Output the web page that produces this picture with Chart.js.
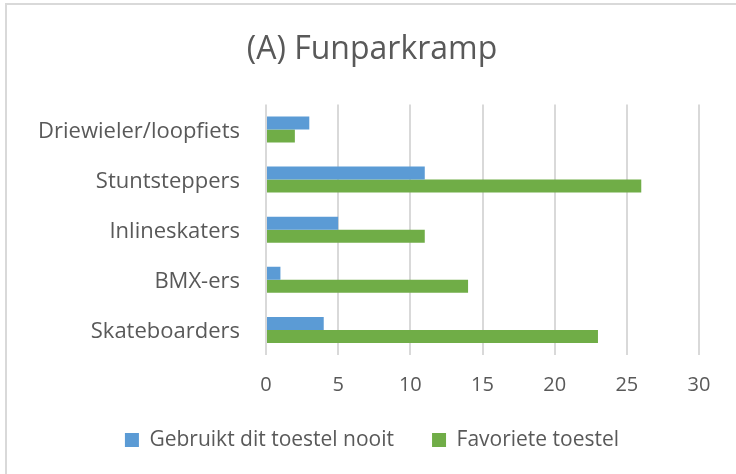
<!DOCTYPE html>
<html>
<head>
<meta charset="utf-8">
<script src="https://cdn.jsdelivr.net/npm/chart.js@4"></script>
<style>
  html, body { margin: 0; padding: 0; background: #fff; }
  #wrap { position: relative; width: 736px; height: 474px; }
  #frame {
    position: absolute; left: 5px; top: 3px; width: 740px; height: 480px;
    border: 2px solid #d9d9d9; box-sizing: border-box; pointer-events: none;
  }
  canvas { position: absolute; left: 0; top: 0; }
</style>
</head>
<body>
<div id="wrap">
  <canvas id="chart" width="736" height="474"></canvas>
  <div id="frame"></div>
</div>
<script>
// chart data
const categories = ["Driewieler/loopfiets", "Stuntsteppers", "Inlineskaters", "BMX-ers", "Skateboarders"];
const nooitValues = [3, 11, 5, 1, 4];
const favorietValues = [2, 26, 11, 14, 23];
const xTicks = [0, 5, 10, 15, 20, 25, 30];

const textColor = "#595959";
const fontFamily = "'Open Sans', Lato, sans-serif";

new Chart(document.getElementById("chart"), {
  type: "bar",
  data: {
    labels: categories,
    datasets: [
      {
        label: "Gebruikt dit toestel nooit",
        data: nooitValues,
        backgroundColor: "#5B9BD5",
        categoryPercentage: 0.52,
        barPercentage: 1.0,
      },
      {
        label: "Favoriete toestel",
        data: favorietValues,
        backgroundColor: "#70AD47",
        categoryPercentage: 0.52,
        barPercentage: 1.0,
      },
    ],
  },
  options: {
    indexAxis: "y",
    responsive: false,
    animation: false,
    // left/right padding keeps the title centred like the original
    layout: { padding: { left: 8, right: 0, top: 0, bottom: 13.5 } },
    scales: {
      x: {
        min: xTicks[0],
        max: xTicks[xTicks.length - 1],
        afterBuildTicks: (scale) => {
          scale.ticks = xTicks.map((v) => ({ value: v }));
        },
        afterFit: (scale) => {
          scale.height = 36.5;
        },
        grid: { color: "#d9d9d9", lineWidth: 2, drawTicks: false },
        border: { display: false },
        ticks: { color: textColor, font: { family: fontFamily, size: 20 }, padding: 18 },
      },
      y: {
        afterFit: (scale) => {
          scale.width = 258;
        },
        grid: { display: false, drawTicks: false },
        border: { display: false },
        ticks: { color: textColor, font: { family: fontFamily, size: 22 }, padding: 26, labelOffset: 2 },
      },
      // empty right axis, only to reserve the space right of the plot
      yRight: {
        position: "right",
        afterFit: (scale) => {
          scale.width = 37;
        },
        grid: { display: false, drawTicks: false },
        border: { display: false },
        ticks: { display: false },
      },
    },
    plugins: {
      title: {
        display: true,
        text: "(A) Funparkramp",
        color: textColor,
        font: { family: fontFamily, size: 32, weight: "normal" },
        padding: { top: 31, bottom: 35 },
      },
      legend: {
        position: "bottom",
        labels: {
          color: textColor,
          font: { family: fontFamily, size: 21 },
          boxWidth: 14,
          boxHeight: 14,
          padding: 38,
        },
      },
      tooltip: { enabled: false },
    },
  },
});
</script>
</body>
</html>
